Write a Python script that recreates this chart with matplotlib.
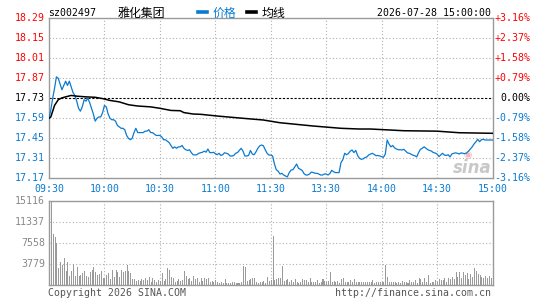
import matplotlib
matplotlib.use("Agg")
import matplotlib.pyplot as plt
import matplotlib.transforms as mtransforms
from matplotlib.lines import Line2D

# ---- data ----
code = "sz002497"
name = "雅化集团"
stamp = "2026-07-28 15:00:00"
prev_close = 17.73

price_ticks = [18.29, 18.15, 18.01, 17.87, 17.73, 17.59, 17.45, 17.31, 17.17]
pct_labels = ["+3.16%", "+2.37%", "+1.58%", "+0.79%", "0.00%",
              "-0.79%", "-1.58%", "-2.37%", "-3.16%"]
time_labels = ["09:30", "10:00", "10:30", "11:00", "11:30",
               "13:30", "14:00", "14:30", "15:00"]
vol_ticks = [15116, 11337, 7558, 3779]

# price, one value per minute (0 = 09:30 ... 240 = 15:00)
prices = [
    17.59, 17.65, 17.73, 17.80, 17.88, 17.87, 17.83, 17.79, 17.82, 17.85,
    17.82, 17.85, 17.81, 17.77, 17.75, 17.71, 17.66, 17.64, 17.67, 17.72,
    17.71, 17.73, 17.70, 17.66, 17.62, 17.57, 17.59, 17.60, 17.60, 17.63,
    17.68, 17.67, 17.62, 17.59, 17.58, 17.58, 17.57, 17.54, 17.53, 17.52,
    17.52, 17.51, 17.47, 17.45, 17.44, 17.45, 17.49, 17.52, 17.49, 17.49,
    17.49, 17.49, 17.50, 17.50, 17.51, 17.49, 17.49, 17.48, 17.47, 17.47,
    17.47, 17.46, 17.44, 17.44, 17.43, 17.42, 17.40, 17.38, 17.39, 17.38,
    17.39, 17.39, 17.40, 17.38, 17.37, 17.365, 17.37, 17.35, 17.335, 17.333,
    17.335, 17.345, 17.349, 17.352, 17.36, 17.353, 17.375, 17.35, 17.349, 17.352,
    17.343, 17.335, 17.345, 17.33, 17.335, 17.349, 17.345, 17.34, 17.326, 17.326,
    17.33, 17.345, 17.35, 17.365, 17.38, 17.36, 17.326, 17.326, 17.33, 17.365,
    17.34, 17.335, 17.355, 17.38, 17.397, 17.403, 17.398, 17.37, 17.345, 17.333,
    17.333, 17.326, 17.27, 17.23, 17.22, 17.20, 17.205, 17.193, 17.186, 17.18,
    17.21, 17.228, 17.23, 17.25, 17.27, 17.24, 17.233, 17.225, 17.203, 17.193,
    17.193, 17.20, 17.214, 17.21, 17.205, 17.205, 17.20, 17.193, 17.193, 17.20,
    17.20, 17.193, 17.203, 17.226, 17.216, 17.21, 17.21, 17.21, 17.28, 17.30,
    17.345, 17.335, 17.343, 17.36, 17.368, 17.35, 17.365, 17.33, 17.31, 17.303,
    17.306, 17.315, 17.32, 17.333, 17.34, 17.345, 17.337, 17.328, 17.33, 17.326,
    17.322, 17.317, 17.34, 17.438, 17.41, 17.39, 17.40, 17.383, 17.375, 17.37,
    17.37, 17.368, 17.373, 17.36, 17.348, 17.345, 17.338, 17.332, 17.328, 17.32,
    17.35, 17.373, 17.38, 17.39, 17.38, 17.37, 17.365, 17.36, 17.35, 17.347,
    17.34, 17.322, 17.333, 17.345, 17.332, 17.33, 17.335, 17.32, 17.34, 17.345,
    17.348, 17.345, 17.34, 17.348, 17.345, 17.342, 17.347, 17.36, 17.375, 17.39,
    17.41, 17.425, 17.443, 17.426, 17.44, 17.443, 17.438, 17.438, 17.438, 17.438,
    17.438,
]

# average price line (minute, value)
avg_min = [0, 1, 2, 3, 5, 7, 9, 12, 15, 20, 25, 29, 33, 38, 43, 48, 55, 60,
           66, 71, 73, 78, 82, 91, 105, 116, 125, 143, 158, 168, 174, 192,
           210, 222, 240]
avg_val = [17.59, 17.60, 17.64, 17.68, 17.72, 17.733, 17.74, 17.75, 17.745,
           17.74, 17.737, 17.728, 17.715, 17.705, 17.685, 17.676, 17.67,
           17.66, 17.645, 17.643, 17.63, 17.62, 17.618, 17.606, 17.59,
           17.578, 17.559, 17.536, 17.52, 17.515, 17.515, 17.503, 17.50,
           17.489, 17.485]

# volume per minute
volumes = [
    2990, 15116, 9080, 8660, 7470, 2990, 4060, 3580, 4780, 2500,
    4180, 1670, 2500, 3700, 1670, 3230, 1670, 1790, 2090, 2500,
    1670, 1490, 2270, 2690, 3290, 2270, 1790, 1910, 2500, 1190,
    1310, 1790, 2090, 1080, 2690, 1490, 2690, 2390, 1490, 2690,
    2270, 2500, 3580, 2500, 2090, 1020, 1080, 720, 960, 780,
    1080, 900, 1190, 900, 1490, 600, 1190, 900, 600, 960,
    720, 2090, 720, 1080, 3000, 2690, 1490, 1190, 600, 720,
    1020, 720, 900, 2500, 1670, 1080, 1190, 720, 1670, 1080,
    1310, 600, 1310, 720, 1190, 1080, 1190, 600, 720, 480,
    900, 480, 300, 600, 300, 1020, 300, 360, 420, 480,
    600, 360, 300, 300, 480, 3400, 3290, 720, 900, 1080,
    1190, 1190, 480, 300, 600, 480, 720, 300, 1430, 720,
    900,
    8840, 900, 1080, 1190, 1310, 3400, 720, 900, 1080, 480,
    900, 600, 1020, 480, 300, 600, 1080, 900, 900, 600,
    1310, 600, 600, 600, 900, 300, 600, 1080, 720, 600,
    720, 2390, 600, 720, 600, 720, 300, 1080, 1190, 600,
    480, 600, 900, 480, 1080, 600, 480, 600, 600, 600,
    600, 600, 600, 600, 900, 300, 480, 480, 480, 600,
    480, 3580, 1490, 600, 480, 600, 600, 300, 600, 300,
    720, 480, 480, 300, 900, 480, 600, 900, 300, 1310,
    1080, 480, 1310, 600, 1790, 300, 480, 600, 900, 600,
    1080, 900, 900, 1190, 600, 1310, 1080, 1490, 1080, 2270,
    1490, 2270, 1310, 2270, 1790, 2090, 1080, 1910, 1490, 2990,
    2500, 1910, 1790, 1490, 1190, 1670, 1190, 1670, 1310, 1080,
]

minutes = list(range(len(prices)))
grid_min = [30 * i for i in range(9)]

# ---- style ----
RED = "#ff0000"
BLUE = "#0a7ad0"
GRAY = "#9a9a9a"
GRID = "#b0b0b0"
MONO = 7.1

plt.rcParams["font.family"] = ["DejaVu Sans Mono", "Noto Sans CJK SC"]
plt.rcParams["font.size"] = MONO

W, H = 545, 300


def fx(px):
    return px / W


def fy(py):
    return 1 - py / H


fig = plt.figure(figsize=(W / 100, H / 100), dpi=100)
left, right = 49, 492.5
ax = fig.add_axes([fx(left), fy(178.3), (right - left) / W, 160 / H])
axv = fig.add_axes([fx(left), fy(285), (right - left) / W, 84.4 / H])

for a in (ax, axv):
    a.set_xlim(0, 240)
    a.set_xticks([])
    a.set_yticks([])
    for s in a.spines.values():
        s.set_color(GRAY)
        s.set_linewidth(1.0)
    for m in grid_min[1:-1]:
        a.axvline(m, color=GRID, lw=0.8, ls=(0, (1, 2)), zorder=1)

# price panel
ax.set_ylim(price_ticks[-1], price_ticks[0])
for p in price_ticks[1:-1]:
    if p == prev_close:
        ax.axhline(p, color="black", lw=0.8, ls=(0, (2, 1.5)), zorder=1)
    else:
        ax.axhline(p, color=GRID, lw=0.8, ls=(0, (1, 2)), zorder=1)

ax.plot(minutes, prices, color=BLUE, lw=0.9, zorder=3)
ax.plot(avg_min, avg_val, color="black", lw=1.1, zorder=4)

trans_l = mtransforms.blended_transform_factory(fig.transFigure, ax.transData)
for p, pct in zip(price_ticks, pct_labels):
    if p > prev_close:
        c = RED
    elif p < prev_close:
        c = BLUE
    else:
        c = "black"
    ax.text(fx(45), p, "%.2f" % p, transform=trans_l, ha="right",
            va="center", color=c, fontsize=MONO)
    ax.text(fx(530.5), p, pct, transform=trans_l, ha="right",
            va="center", color=c, fontsize=MONO)

trans_t = mtransforms.blended_transform_factory(ax.transData, fig.transFigure)
for m, lab in zip(grid_min, time_labels):
    ax.text(m, fy(189), lab, transform=trans_t, ha="center", va="center",
            color=BLUE, fontsize=MONO)

# watermark
ax.text(0.945, 0.145, "\u25c9", transform=ax.transAxes, ha="center",
        va="center", color="#f2b9b9", fontsize=7, family="DejaVu Sans",
        zorder=2)
ax.text(0.955, 0.065, "sina", transform=ax.transAxes, ha="center",
        va="center", color="#c8c8c8", fontsize=12, fontweight="bold",
        style="italic", family="DejaVu Sans", zorder=2)

# volume panel
axv.set_ylim(0, vol_ticks[0])
for v in vol_ticks[1:]:
    axv.axhline(v, color=GRID, lw=0.8, ls=(0, (1, 2)), zorder=1)
axv.bar(minutes, volumes, width=0.55, align="edge", color=GRAY,
        linewidth=0, zorder=3)
trans_v = mtransforms.blended_transform_factory(fig.transFigure, axv.transData)
for v in vol_ticks:
    axv.text(fx(45), v, str(v), transform=trans_v, ha="right", va="center",
             color="#888888", fontsize=MONO)

# header row
fig.text(fx(48), fy(13), code, ha="left", va="center", color="black",
         fontsize=MONO)
fig.text(fx(118), fy(13), name, ha="left", va="center", color="black",
         fontsize=8.6, family=["Noto Sans CJK SC", "DejaVu Sans"])
handles = [Line2D([], [], color=BLUE, lw=2.6),
           Line2D([], [], color="black", lw=2.6)]
leg = fig.legend(handles, ["价格", "均线"], loc="center left",
                 bbox_to_anchor=(fx(198), fy(13)), ncol=2, frameon=False,
                 handlelength=0.75, handletextpad=0.45, columnspacing=0.9,
                 borderpad=0, borderaxespad=0,
                 prop={"family": ["Noto Sans CJK SC", "DejaVu Sans"],
                       "size": 8.6})
leg.get_texts()[0].set_color(BLUE)
fig.text(fx(491), fy(13), stamp, ha="right", va="center", color="black",
         fontsize=MONO)

# footer
fig.text(fx(48), fy(293), "Copyright 2026 SINA.COM", ha="left", va="center",
         color="#555555", fontsize=MONO)
fig.text(fx(491), fy(293), "http://finance.sina.com.cn", ha="right",
         va="center", color="#555555", fontsize=MONO)

fig.savefig("out.png", dpi=100)
plt.close(fig)
